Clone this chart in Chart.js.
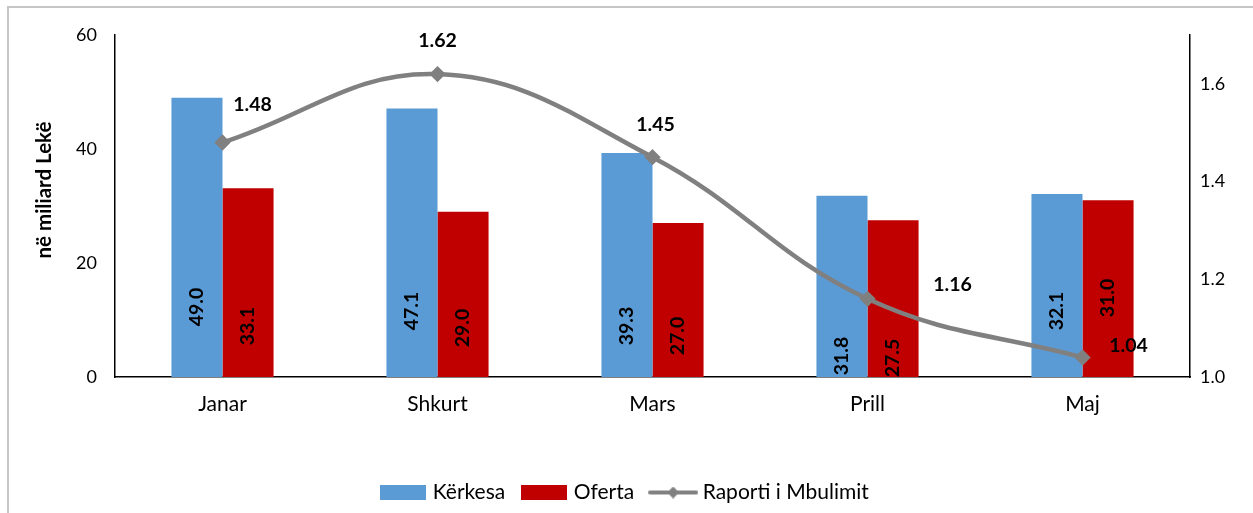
<!DOCTYPE html>
<html>
<head>
<meta charset="utf-8">
<script src="https://cdn.jsdelivr.net/npm/chart.js@4"></script>
<style>
  html, body { margin: 0; padding: 0; background: #fff; overflow: hidden; }
  .frame { position: absolute; left: 7px; top: 6px; width: 1300px; height: 600px; border: 2px solid #c6c6c6; }
  #coverChart { position: absolute; left: 0; top: 0; }
</style>
</head>
<body>
<div class="frame"></div>
<canvas id="coverChart" width="1253" height="513"></canvas>
<script>
const months = ['Janar', 'Shkurt', 'Mars', 'Prill', 'Maj'];
const kerkesa = [49.0, 47.1, 39.3, 31.8, 32.1];
const oferta = [33.1, 29.0, 27.0, 27.5, 31.0];
const raporti = [1.48, 1.62, 1.45, 1.16, 1.04];
const leftTicks = [0, 20, 40, 60];
const rightTicks = [1.0, 1.2, 1.4, 1.6];

const BLUE = '#5B9BD5';
const RED = '#C00000';
const GREY = '#808080';
const PLOT_BOTTOM = 377;

// small canvases used as legend symbols
function swatch(w, h, paint) {
    const c = document.createElement('canvas');
    c.width = w;
    c.height = h;
    paint(c.getContext('2d'), w, h);
    return c;
}
const blueBox = swatch(46, 15, (g, w, h) => { g.fillStyle = BLUE; g.fillRect(0, 0, w, h); });
const redBox = swatch(46, 15, (g, w, h) => { g.fillStyle = RED; g.fillRect(0, 0, w, h); });
const lineMark = swatch(50, 12, (g, w, h) => {
    g.strokeStyle = GREY;
    g.lineWidth = 4;
    g.lineCap = 'round';
    g.beginPath();
    g.moveTo(2, h / 2);
    g.lineTo(w - 2, h / 2);
    g.stroke();
    g.fillStyle = GREY;
    g.beginPath();
    g.moveTo(w / 2, 0);
    g.lineTo(w / 2 + 6, h / 2);
    g.lineTo(w / 2, h);
    g.lineTo(w / 2 - 6, h / 2);
    g.closePath();
    g.fill();
});

// value labels: bars get rotated text lifted from the base, line gets offset text
const valueLabels = {
    id: 'valueLabels',
    afterDatasetsDraw(chart, args, opts) {
        const ctx = chart.ctx;
        ctx.save();
        ctx.fillStyle = '#000';
        ctx.font = 'bold 19.5px Lato';
        ctx.textAlign = 'center';
        ctx.textBaseline = 'middle';
        chart.data.datasets.forEach((ds, di) => {
            const meta = chart.getDatasetMeta(di);
            const shift = opts.shifts[di];
            meta.data.forEach((el, i) => {
                if (ds.type === 'line') {
                    ctx.fillText(ds.data[i].toFixed(2), el.x + shift[i][0], el.y + shift[i][1]);
                } else {
                    ctx.save();
                    ctx.translate(el.x, el.base - shift[i]);
                    ctx.rotate(-Math.PI / 2);
                    ctx.fillText(ds.data[i].toFixed(1), 0, 0);
                    ctx.restore();
                }
            });
        });
        ctx.restore();
    }
};

// left axis caption, sitting a little above the middle of the plot
const unitCaption = {
    id: 'unitCaption',
    afterDraw(chart, args, opts) {
        const {ctx, chartArea} = chart;
        ctx.save();
        ctx.translate(opts.x, (chartArea.top + chartArea.bottom) / 2 + opts.lift);
        ctx.rotate(-Math.PI / 2);
        ctx.fillStyle = '#000';
        ctx.font = 'bold 20.5px Lato';
        ctx.textAlign = 'center';
        ctx.textBaseline = 'middle';
        ctx.fillText(opts.text, 0, 0);
        ctx.restore();
    }
};

const numFont = { family: 'Lato', size: 18 };

new Chart(document.getElementById('coverChart'), {
    type: 'bar',
    data: {
        labels: months,
        datasets: [
            {
                type: 'bar',
                label: 'Kërkesa',
                data: kerkesa,
                backgroundColor: BLUE,
                yAxisID: 'y',
                order: 1,
                barPercentage: 1,
                categoryPercentage: 0.475
            },
            {
                type: 'bar',
                label: 'Oferta',
                data: oferta,
                backgroundColor: RED,
                yAxisID: 'y',
                order: 1,
                barPercentage: 1,
                categoryPercentage: 0.475
            },
            {
                type: 'line',
                label: 'Raporti i Mbulimit',
                data: raporti,
                borderColor: GREY,
                backgroundColor: GREY,
                borderWidth: 4.5,
                tension: 0.4,
                pointStyle: 'rectRot',
                pointRadius: 5,
                pointBackgroundColor: GREY,
                pointBorderColor: GREY,
                yAxisID: 'y1',
                order: 0
            }
        ]
    },
    plugins: [valueLabels, unitCaption],
    options: {
        responsive: false,
        animation: false,
        layout: { padding: { top: 35, left: 0, right: 0, bottom: 0 } },
        scales: {
            x: {
                grid: { display: false, drawTicks: false },
                border: { display: true, color: '#000', width: 1.5 },
                ticks: { font: { family: 'Lato', size: 21 }, color: '#000', padding: 15 },
                afterFit(scale) {
                    scale.height = scale.chart.height - PLOT_BOTTOM - scale.chart.legend.height;
                }
            },
            y: {
                position: 'left',
                min: 0,
                max: 60,
                grid: { display: false, drawTicks: false },
                border: { display: true, color: '#000', width: 1.5 },
                ticks: { font: numFont, color: '#000', padding: 18 },
                afterBuildTicks(scale) {
                    scale.ticks = leftTicks.map(v => ({ value: v }));
                },
                afterFit(scale) { scale.width = 115; }
            },
            y1: {
                position: 'right',
                min: 1.0,
                max: 1.7,
                grid: { display: false, drawTicks: false },
                border: { display: true, color: '#000', width: 1.5 },
                ticks: {
                    font: numFont,
                    color: '#000',
                    padding: 10,
                    callback: v => v.toFixed(1)
                },
                afterBuildTicks(scale) {
                    scale.ticks = rightTicks.map(v => ({ value: v }));
                },
                afterFit(scale) { scale.width = 63; }
            }
        },
        plugins: {
            legend: {
                position: 'bottom',
                labels: {
                    usePointStyle: true,
                    pointStyleWidth: 38,
                    padding: 20,
                    color: '#000',
                    font: { family: 'Lato', size: 21 },
                    generateLabels(chart) {
                        const marks = [blueBox, redBox, lineMark];
                        return chart.data.datasets.map((ds, i) => ({
                            text: ds.label,
                            pointStyle: marks[i],
                            fillStyle: ds.backgroundColor,
                            strokeStyle: ds.backgroundColor,
                            lineWidth: 0,
                            hidden: false,
                            datasetIndex: i,
                            fontColor: '#000'
                        }));
                    }
                }
            },
            tooltip: { enabled: false },
            unitCaption: { text: 'në miliard Lekë', x: 44, lift: -16 },
            valueLabels: {
                shifts: [
                    [70, 66, 51, 21, 66],
                    [51, 49, 41, 19, 79],
                    [[30, -38], [0, -33], [3, -32], [85, -14], [46, -12]]
                ]
            }
        }
    }
});
</script>
</body>
</html>
